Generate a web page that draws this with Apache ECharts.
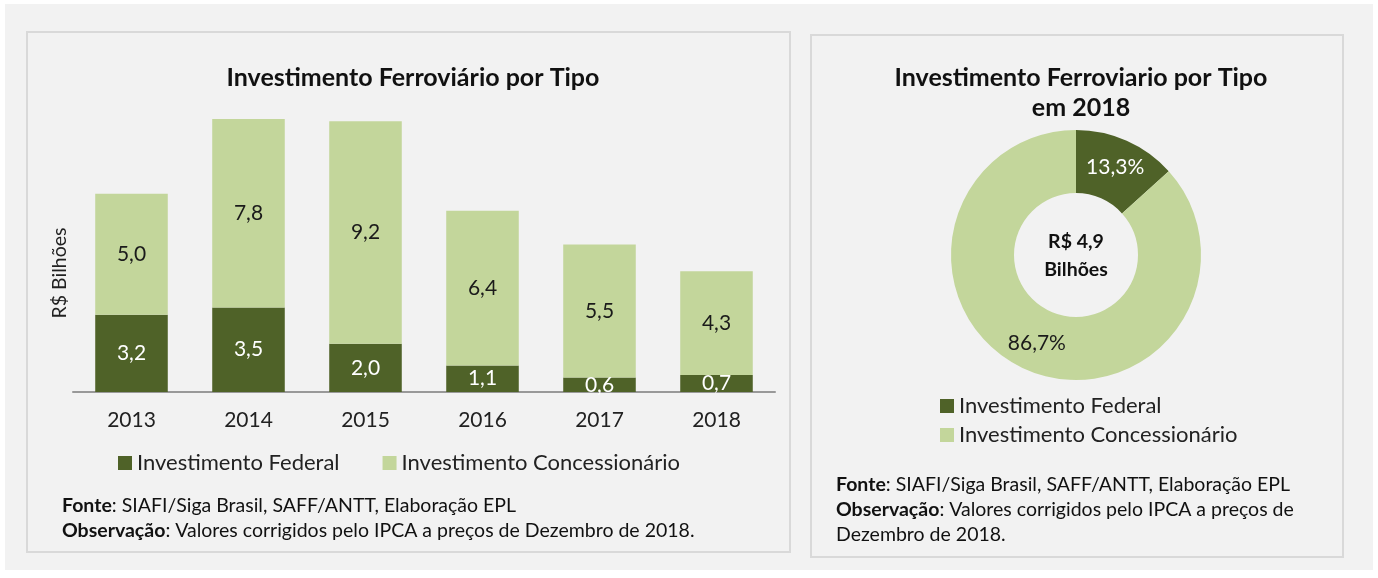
<!DOCTYPE html>
<html lang="pt">

<head>
  <meta charset="UTF-8">
  <script src="https://cdn.jsdelivr.net/npm/echarts@6/dist/echarts.min.js"></script>
  <title>Investimento Ferroviário</title>
  <style>
    html, body { margin: 0; padding: 0; background: #fff; }
    #main { width: 1378px; height: 578px; }
  </style>
</head>

<body>
  <div id="main"></div>
  <script>
    // dados
    const years = ['2013', '2014', '2015', '2016', '2017', '2018'];
    const federal = [3.2, 3.5, 2.0, 1.1, 0.6, 0.7];
    const concessionario = [5.0, 7.8, 9.2, 6.4, 5.5, 4.3];
    const seriesNames = ['Investimento Federal', 'Investimento Concessionário'];
    const share2018 = [13.3, 86.7]; // %
    const total2018 = 'R$ 4,9\nBilhões';

    const dark = '#4f6228';
    const light = '#c3d69b';
    const font = 'Lato';

    const fmt = v => v.toFixed(1).replace('.', ',');

    let chart = echarts.init(document.getElementById('main'));

    // notas de rodapé
    function note(x, y, lines) {
      return {
        type: 'text', left: x, top: y, z: 5,
        style: {
          text: lines.join('\n'),
          fontFamily: font, fontSize: 19.5, lineHeight: 25, fill: '#111',
          rich: { b: { fontFamily: font, fontSize: 19.5, fontWeight: 'bold', fill: '#111' } }
        }
      };
    }

    chart.setOption({
      backgroundColor: '#fff',
      color: [dark, light],
      textStyle: { fontFamily: font },
      graphic: [
        { type: 'rect', z: -10, shape: { x: 5, y: 4, width: 1368, height: 566 }, style: { fill: '#f2f2f2' } },
        { type: 'rect', z: -9, shape: { x: 27, y: 32, width: 763, height: 520 }, style: { fill: '#f2f2f2', stroke: '#d9d9d9', lineWidth: 2 } },
        { type: 'rect', z: -9, shape: { x: 811, y: 35, width: 532, height: 522 }, style: { fill: '#f2f2f2', stroke: '#d9d9d9', lineWidth: 2 } },
        note(62, 493, ['{b|Fonte}: SIAFI/Siga Brasil, SAFF/ANTT, Elaboração EPL',
          '{b|Observação}: Valores corrigidos pelo IPCA a preços de Dezembro de 2018.']),
        note(836, 472, ['{b|Fonte}: SIAFI/Siga Brasil, SAFF/ANTT, Elaboração EPL',
          '{b|Observação}: Valores corrigidos pelo IPCA a preços de',
          'Dezembro de 2018.']),
        {
          type: 'text', z: 5, x: 1076, y: 256,
          style: {
            text: total2018, fontFamily: font, fontSize: 19.5, fontWeight: 'bold', lineHeight: 28,
            fill: '#111', align: 'center', verticalAlign: 'middle'
          }
        },
        {
          // título do eixo y
          type: 'text', z: 5, x: 60, y: 273, rotation: Math.PI / 2,
          style: {
            text: 'R$ Bilhões', fontFamily: font, fontSize: 19.5, fill: '#222',
            align: 'center', verticalAlign: 'middle'
          }
        }
      ],
      title: [
        {
          text: 'Investimento Ferroviário por Tipo', left: 408, top: 60, textAlign: 'center',
          textStyle: { fontFamily: font, fontSize: 25, fontWeight: 'bold', color: '#111' }
        },
        {
          text: 'Investimento Ferroviario por Tipo\nem 2018', left: 1076, top: 58, textAlign: 'center',
          textStyle: { fontFamily: font, fontSize: 25, fontWeight: 'bold', color: '#111', lineHeight: 30 }
        }
      ],
      legend: [
        {
          data: seriesNames, left: 113, top: 447, itemWidth: 14, itemHeight: 14, itemGap: 43,
          icon: 'rect', selectedMode: false,
          textStyle: { fontFamily: font, fontSize: 22, color: '#222' }
        },
        {
          data: seriesNames, orient: 'vertical', left: 935, top: 390, itemWidth: 14, itemHeight: 14, itemGap: 7,
          icon: 'rect', selectedMode: false,
          textStyle: { fontFamily: font, fontSize: 22, color: '#222' }
        }
      ],
      grid: { left: 73, right: 603, top: 102, bottom: 186 },
      xAxis: {
        type: 'category', data: years,
        axisLine: { lineStyle: { color: '#999', width: 2 } },
        axisTick: { length: 7, lineStyle: { color: '#999', width: 2 } },
        axisLabel: { fontFamily: font, fontSize: 21, color: '#222', margin: 18 }
      },
      yAxis: {
        type: 'value', min: 0, max: 12,
        axisLine: { show: false }, axisTick: { show: false },
        axisLabel: { show: false }, splitLine: { show: false }
      },
      series: [
        {
          name: seriesNames[0], type: 'bar', stack: 'total', barWidth: '62%', data: federal,
          itemStyle: { color: dark },
          label: { show: true, position: 'inside', formatter: p => fmt(p.value), color: '#fff', fontFamily: font, fontSize: 21 }
        },
        {
          name: seriesNames[1], type: 'bar', stack: 'total', barWidth: '62%', data: concessionario,
          itemStyle: { color: light },
          label: { show: true, position: 'inside', formatter: p => fmt(p.value), color: '#1a1a1a', fontFamily: font, fontSize: 21 }
        },
        {
          type: 'pie', center: [1076, 255], radius: [62, 125], startAngle: 90, clockwise: true,
          silent: true,
          data: [
            { name: seriesNames[0], value: share2018[0], itemStyle: { color: dark }, label: { color: '#fff' } },
            { name: seriesNames[1], value: share2018[1], itemStyle: { color: light }, label: { color: '#1a1a1a' } }
          ],
          label: {
            show: true, position: 'inside', fontFamily: font, fontSize: 21,
            formatter: p => fmt(p.value) + '%'
          },
          labelLine: { show: false }
        }
      ]
    });
  </script>
</body>

</html>
